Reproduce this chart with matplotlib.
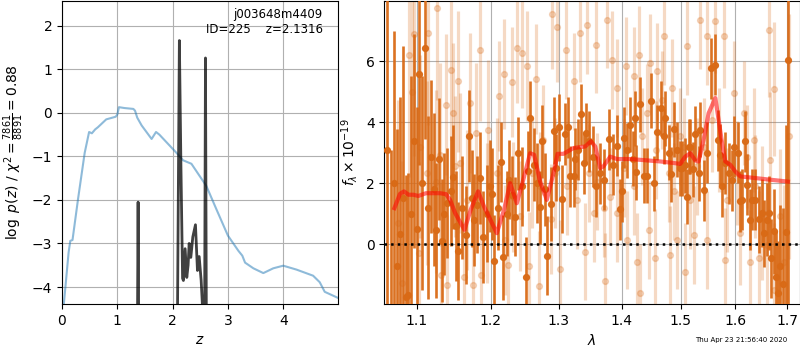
import matplotlib
matplotlib.use('Agg')
import matplotlib.pyplot as plt
from matplotlib.ticker import NullLocator

# --- left panel: chi2 curve and log p(z)
chi2_z = [0.0, 0.036, 0.12, 0.15, 0.19, 0.29, 0.41, 0.49, 0.54, 0.60, 0.65, 0.80, 0.97, 1.0, 1.03,
          1.13, 1.29, 1.32, 1.36, 1.44, 1.62, 1.70, 1.76, 2.07, 2.19, 2.34, 2.61, 2.79, 3.00, 3.19,
          3.26, 3.31, 3.46, 3.64, 3.82, 4.0, 4.24, 4.54, 4.66, 4.75, 4.99]
chi2_y = [-4.9, -4.35, -3.2, -2.94, -2.92, -1.98, -0.92, -0.44, -0.47, -0.38, -0.33, -0.15, -0.09, -0.04, 0.13,
          0.11, 0.09, 0.05, -0.11, -0.29, -0.60, -0.44, -0.50, -0.92, -1.09, -1.17, -1.68, -2.21, -2.82, -3.17,
          -3.28, -3.44, -3.57, -3.68, -3.57, -3.51, -3.60, -3.74, -3.89, -4.11, -4.25]

pz_z = [0.0, 1.352, 1.376, 1.398, 2.070, 2.122, 2.150, 2.180, 2.195, 2.226, 2.256, 2.280, 2.299, 2.329,
        2.365, 2.413, 2.449, 2.480, 2.516, 2.546, 2.570, 2.594, 2.618, 4.99]
pz_y = [-8.0, -8.0, -2.05, -8.0, -8.0, 1.66, -1.2, -3.80, -3.85, -3.12, -3.78, -3.50, -3.00, -3.32,
        -2.85, -2.57, -3.62, -3.30, -3.85, -4.60, -8.0, 1.26, -8.0, -8.0]

# --- right panel: spectrum, two grism sets and the model
wave_dark = [1.0625, 1.0668, 1.0705, 1.0751, 1.0786, 1.0822, 1.0859, 1.0888, 1.0930, 1.0966,
             1.1000, 1.1034, 1.1070, 1.1108, 1.1145, 1.1183, 1.1220, 1.1257, 1.1293, 1.1329,
             1.1365, 1.1404, 1.1449, 1.1484, 1.1520, 1.1552, 1.1600, 1.1653, 1.1703, 1.1735,
             1.1767, 1.1810, 1.1851, 1.1898, 1.1945, 1.1990, 1.2015, 1.2052, 1.2100, 1.2143,
             1.2180, 1.2225, 1.2261, 1.2300, 1.2345, 1.2397, 1.2450, 1.2505, 1.2540, 1.2569,
             1.2620, 1.2670, 1.2718, 1.2752, 1.2790, 1.2828, 1.2885, 1.2923, 1.2965, 1.3008,
             1.3047, 1.3098, 1.3139, 1.3175, 1.3227, 1.3253, 1.3300, 1.3348, 1.3384, 1.3422,
             1.3470, 1.3526, 1.3580, 1.3649, 1.3706, 1.3783, 1.3850, 1.3925, 1.3974, 1.4008,
             1.4041, 1.4082, 1.4139, 1.4190, 1.4223, 1.4240, 1.4295, 1.4363, 1.4419, 1.4481,
             1.4533, 1.4590, 1.4665, 1.4704, 1.4734, 1.4790, 1.4838, 1.4879, 1.4940, 1.4984,
             1.5032, 1.5085, 1.5115, 1.5143, 1.5174, 1.5216, 1.5263, 1.5322, 1.5353, 1.5413,
             1.5470, 1.5553, 1.5615, 1.5669, 1.5719, 1.5750, 1.5812, 1.5874, 1.5940, 1.5980,
             1.6042, 1.6081, 1.6130, 1.6179, 1.6227, 1.6270, 1.6316, 1.6381, 1.6445, 1.6500,
             1.6543, 1.6600, 1.6640, 1.6692, 1.6738, 1.6780, 1.6825, 1.6870, 1.6930, 1.6980,
             1.7020]
flux_dark = [3.1, -2.4, 2.0, -0.73, 0.33, 1.5, -1.72, -1.67, 1.0, 3.37,
             0.5, 5.58, 2.0, 6.43, 1.2, 2.87, 1.8, 0.45, 2.79, 0.12,
             1.0, 1.34, 1.73, 2.2, 0.6, -0.22, 1.2, 0.31, 3.55, 1.5,
             0.80, 1.3, 2.16, 0.23, 1.0, 1.9, 1.64, -0.55, 1.2, 2.69,
             -0.43, 1.0, 2.11, 1.6, 0.9, 2.98, 1.9, -1.06, 2.4, 4.13,
             2.6, 2.0, 1.21, 3.37, 1.8, -0.38, 1.32, 3.72, 2.5, 3.83,
             1.48, 3.61, 3.83, 2.22, 2.22, 2.79, 3.1, 4.26, 2.66, 3.64,
             3.37, 2.87, 1.9, 2.33, 2.11, 3.44, 2.6, 3.22, 1.15, 1.73,
             3.48, 3.07, 3.91, 2.8, 4.13, 2.35, 4.59, 2.24, 2.24, 4.70,
             2.0, 3.66, 4.46, 3.53, 4.13, 3.0, 2.29, 3.77, 3.1, 2.49,
             2.49, 2.58, 1.56, 3.2, 3.2, 2.46, 3.62, 2.33, 3.75, 1.76,
             3.0, 5.77, 5.88, 3.40, 2.93, 1.89, 2.66, 2.33, 2.1, 3.2,
             2.99, 1.40, 1.45, 3.37, 1.95, 0.80, 1.45, 1.45, 0.82, 1.02,
             0.36, 0.80, 1.02, -0.46, 0.42, -1.06, -1.61, -0.73, -1.3, 0.4,
             6.04]
err_dark = [6.0, 5.5, 5.0, 4.5, 4.5, 5.0, 4.0, 4.0, 4.5, 3.5,
            4.0, 3.0, 3.5, 3.0, 3.0, 2.5, 2.5, 2.2, 2.0, 2.0,
            2.0, 1.8, 1.8, 1.7, 1.8, 1.6, 1.7, 1.6, 1.5, 1.6,
            1.5, 1.6, 1.5, 1.5, 1.6, 1.5, 1.5, 1.5, 1.4, 1.3,
            1.4, 1.4, 1.3, 1.3, 1.3, 1.2, 1.3, 1.3, 1.3, 1.2,
            1.2, 1.3, 1.2, 1.2, 1.2, 1.3, 1.2, 1.1, 1.1, 1.1,
            1.1, 1.0, 1.0, 1.0, 1.0, 1.0, 1.0, 1.0, 1.0, 1.0,
            1.0, 1.0, 1.0, 1.0, 1.0, 1.0, 1.0, 1.0, 1.0, 1.0,
            1.0, 0.9, 0.9, 0.9, 0.9, 0.9, 0.9, 0.9, 0.9, 0.9,
            0.9, 0.9, 0.9, 0.9, 0.9, 0.9, 0.9, 0.9, 0.9, 0.9,
            0.9, 0.9, 0.9, 0.9, 0.9, 0.9, 0.9, 0.9, 0.9, 1.0,
            1.0, 1.0, 1.0, 1.0, 1.0, 1.0, 1.0, 1.0, 1.0, 1.0,
            1.0, 1.0, 1.0, 1.0, 1.0, 1.0, 1.0, 1.0, 1.1, 1.1,
            1.1, 1.2, 1.2, 1.3, 1.4, 1.5, 1.7, 2.0, 2.5, 3.5,
            8.0]

wave_light = [1.0765, 1.0807, 1.0901, 1.0935, 1.0965, 1.1034, 1.1045, 1.1130, 1.1151, 1.1257,
              1.1266, 1.1306, 1.1320, 1.1386, 1.1395, 1.1449, 1.1485, 1.1508, 1.1553, 1.1575,
              1.1630, 1.1667, 1.1712, 1.1758, 1.1795, 1.1851, 1.1860, 1.1944, 1.1968, 1.2086,
              1.2123, 1.2190, 1.2204, 1.2253, 1.2301, 1.2325, 1.2383, 1.2422, 1.2446, 1.2520,
              1.2559, 1.2594, 1.2658, 1.2703, 1.2718, 1.2768, 1.2879, 1.2904, 1.2945, 1.2971,
              1.3021, 1.3113, 1.3124, 1.3227, 1.3279, 1.3331, 1.3410, 1.3436, 1.3463, 1.3542,
              1.3585, 1.3596, 1.3702, 1.3729, 1.3756, 1.3810, 1.3837, 1.3919, 1.3925, 1.4029,
              1.4073, 1.4080, 1.4195, 1.4200, 1.4251, 1.4279, 1.4307, 1.4335, 1.4419, 1.4448,
              1.4476, 1.4562, 1.4568, 1.4590, 1.4677, 1.4705, 1.4792, 1.4821, 1.4850, 1.4879,
              1.4937, 1.4996, 1.5055, 1.5085, 1.5115, 1.5174, 1.5233, 1.5293, 1.5353, 1.5414,
              1.5474, 1.5480, 1.5566, 1.5627, 1.5688, 1.5781, 1.5800, 1.5843, 1.5968, 1.6030,
              1.6094, 1.6157, 1.6221, 1.6271, 1.6349, 1.6381, 1.6445, 1.6510, 1.6608, 1.6640,
              1.6673, 1.6738, 1.6745, 1.6870, 1.6937, 1.7037]
flux_light = [0.71, -1.28, 6.21, 5.0, 6.9, -0.30, 3.20, 2.33, 6.92, 2.05,
              7.74, 2.93, -1.0, 4.57, -1.33, 5.72, 4.3, 2.55, 5.33, 2.66,
              -1.06, 1.45, 4.62, -1.33, 3.64, 6.35, -1.0, 1.02, 3.75, 2.33,
              4.86, 5.58, 0.14, -0.68, 5.30, 1.56, 6.43, 0.91, 6.26, 5.83,
              -0.73, 2.33, 5.42, -1.37, 1.89, 3.42, 0.82, 7.55, 2.33, 7.11,
              -0.82, 6.37, 1.89, 5.33, 1.45, 6.92, -0.24, 7.19, 2.33, 1.02,
              6.54, 2.05, 1.18, -1.22, 7.36, 1.56, 6.04, 5.11, 1.02, 2.49,
              5.83, 0.14, 5.5, 1.89, -0.57, 6.21, -1.61, 3.53, 4.30, 0.47,
              5.93, -0.46, 3.09, 5.66, 4.73, 6.83, 2.33, -0.35, 5.11, 1.73,
              0.14, 3.53, 3.20, -0.90, 6.5, 1.45, 0.31, 2.55, 7.33, 3.20,
              6.81, 0.14, 4.08, 7.30, 3.42, 6.81, -0.51, 1.45, 4.95, 2.33,
              0.36, 4.30, 2.87, -0.57, 3.42, 1.89, -0.46, 1.02, -0.02, 7.03,
              2.77, 5.08, -1.50, 0.91, -0.57, 3.53]
err_light = [4.0, 4.0, 4.0, 4.0, 4.0, 3.0, 3.0, 3.0, 3.0, 3.0,
             3.0, 3.0, 3.0, 2.3, 2.3, 2.3, 2.3, 2.3, 2.3, 2.3,
             2.3, 2.3, 2.3, 2.3, 2.3, 2.3, 2.3, 2.3, 2.3, 1.8,
             1.8, 1.8, 1.8, 1.8, 1.8, 1.8, 1.8, 1.8, 1.8, 1.8,
             1.8, 1.8, 1.8, 1.8, 1.8, 1.8, 1.8, 1.8, 1.8, 1.8,
             1.6, 1.6, 1.6, 1.6, 1.6, 1.6, 1.6, 1.6, 1.6, 1.6,
             1.6, 1.6, 1.6, 1.6, 1.6, 1.6, 1.6, 1.6, 1.6, 1.6,
             1.6, 1.6, 1.6, 1.6, 1.6, 1.6, 1.6, 1.6, 1.6, 1.6,
             1.6, 1.6, 1.6, 1.6, 1.6, 1.6, 1.6, 1.6, 1.6, 1.6,
             1.6, 1.6, 1.6, 1.6, 1.6, 1.6, 1.6, 1.6, 1.6, 1.6,
             1.6, 1.6, 1.7, 1.7, 1.7, 1.7, 1.7, 1.7, 1.7, 1.7,
             1.7, 1.7, 1.7, 1.7, 1.7, 1.7, 2.2, 2.2, 2.2, 2.2,
             2.2, 2.2, 2.2, 2.2, 2.5, 4.0]

model_wave = [1.0715, 1.0786, 1.0837, 1.0893, 1.0957, 1.1021, 1.1121, 1.1306, 1.1386, 1.1440,
              1.1508, 1.1635, 1.1721, 1.1823, 1.1907, 1.2086, 1.2190, 1.2277, 1.2374, 1.2461,
              1.2569, 1.2628, 1.2718, 1.2818, 1.2920, 1.2981, 1.3072, 1.3227, 1.3410, 1.3500,
              1.3569, 1.3649, 1.3702, 1.3810, 1.3919, 1.4139, 1.4648, 1.4879, 1.4996, 1.5085,
              1.5174, 1.5263, 1.5322, 1.5413, 1.5504, 1.5627, 1.5687, 1.5751, 1.5812, 1.5905,
              1.5999, 1.6094, 1.6575, 1.7020]
model_flux = [1.18, 1.65, 1.73, 1.62, 1.62, 1.58, 1.67, 1.67, 1.64, 1.45,
              1.02, 0.47, 1.13, 1.73, 1.23, 0.36, 1.13, 2.0, 1.34, 2.05,
              2.98, 2.93, 2.05, 1.45, 2.33, 2.96, 2.96, 3.15, 3.2, 3.37,
              3.2, 2.49, 2.55, 2.87, 2.79, 2.79, 2.71, 2.66, 2.63, 2.87,
              2.98, 2.74, 2.71, 3.42, 4.29, 4.79, 4.08, 3.32, 2.71, 2.6,
              2.38, 2.22, 2.13, 2.05]

wave_ticks = [1.1, 1.2, 1.3, 1.4, 1.5, 1.6, 1.7]
spec_color = '#d96a16'

fig = plt.figure(figsize=(8, 3.5), dpi=100)
ax = fig.add_axes([0.0775, 0.1314, 0.345, 0.866])
ax.plot(chi2_z, chi2_y, color='C0', alpha=0.5, lw=1.5)
ax.plot(pz_z, pz_y, color='k', alpha=0.75, lw=2)
ax.set_xlim(0, 4.99)
ax.set_ylim(-4.39, 2.57)
ax.set_xticks([0, 1, 2, 3, 4])
ax.set_yticks([-4, -3, -2, -1, 0, 1, 2])
ax.grid()
ax.set_xlabel(r'$z$')
ax.set_ylabel(r'$\log\ p(z)$' + ' / ' + r'$\chi^2=\frac{7861}{8891}=0.88$')
ax.text(0.945, 0.975, 'j003648m4409\nID=225    z=2.1316', ha='right', va='top',
        transform=ax.transAxes, fontsize=8.5)

ax2 = fig.add_axes([0.4804, 0.1314, 0.519, 0.866])
ax2.errorbar(wave_light, flux_light, yerr=err_light, marker='o', linestyle='none',
             color=spec_color, alpha=0.25, ms=4.2, elinewidth=2.3, zorder=2)
ax2.errorbar(wave_dark, flux_dark, yerr=err_dark, marker='o', linestyle='none',
             color=spec_color, alpha=0.95, ms=4.2, elinewidth=1.9, zorder=3)
ax2.plot(model_wave, model_flux, color='r', alpha=0.55, lw=3, zorder=4)
ax2.axhline(0, color='k', linestyle=':', lw=1.8, zorder=5)
ax2.set_xscale('log')
ax2.set_xlim(1.0589, 1.7253)
ax2.set_ylim(-1.96, 7.97)
ax2.set_xticks(wave_ticks)
ax2.set_xticklabels([str(w) for w in wave_ticks])
ax2.xaxis.set_minor_locator(NullLocator())
ax2.set_yticks([0, 2, 4, 6])
ax2.grid()
ax2.set_xlabel(r'$\lambda$')
ax2.set_ylabel(r'$f_\lambda\times10^{-19}$')

fig.text(0.984, 0.02, 'Thu Apr 23 21:56:40 2020', ha='right', va='bottom', fontsize=5)

fig.savefig('out.png', dpi=100)
